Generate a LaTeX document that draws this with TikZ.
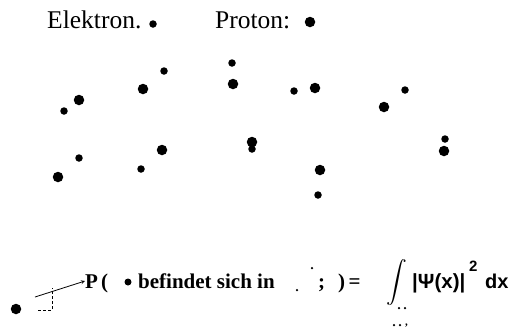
\documentclass[tikz,border=0pt]{standalone}
\usepackage{amsmath}
\usepackage{fontspec}
\setmainfont{Liberation Serif}
\newfontfamily\sansb{Liberation Sans}
\begin{document}
\begin{tikzpicture}[x=1pt,y=-1pt,
  lbl/.style={anchor=base west,inner sep=0pt,font=\fontsize{25.5}{28}\selectfont},
  btxt/.style={anchor=base west,inner sep=0pt,font=\bfseries\fontsize{21}{24}\selectfont},
  bdot/.style={circle,fill=black,inner sep=0pt,minimum size=10.5pt},
  sdot/.style={circle,fill=black,inner sep=0pt,minimum size=7.5pt},
  tdot/.style={circle,fill=black,inner sep=0pt,minimum size=2.5pt}]
\useasboundingbox (0,0) rectangle (513,330);
% legend
\node[lbl] (el) at (47,28) {Elektron.};
\node[sdot] (eld) at (153,24) {};
\node[lbl] (pr) at (215,28) {Proton:};
\node[bdot] (prd) at (310,22) {};
% cloud of particles
\node[sdot] (s1) at (64,111) {};
\node[bdot] (b1) at (79,100) {};
\node[bdot] (b2) at (143,89) {};
\node[sdot] (s2) at (164,71) {};
\node[sdot] (s3) at (232,63) {};
\node[bdot] (b3) at (233,84) {};
\node[sdot] (s4) at (294,91) {};
\node[bdot] (b4) at (315,88) {};
\node[sdot] (s5) at (405,90) {};
\node[bdot] (b5) at (384,107) {};
\node[sdot] (s6) at (79,158) {};
\node[bdot] (b6) at (58,177) {};
\node[sdot] (s7) at (141,169) {};
\node[bdot] (b7) at (162,150) {};
\node[sdot] (s8) at (252,149) {};
\node[bdot] (b8) at (252,142) {};
\node[bdot] (b9) at (320,170) {};
\node[sdot] (s9) at (318,195) {};
\node[sdot] (s10) at (445,139) {};
\node[bdot] (b10) at (444,151) {};
% bottom: particle, volume element and probability
\node[bdot] (p0) at (16,309) {};
\draw[densely dashed,line width=0.7pt] (38,310) -- (52,310) -- (52,288);
\coordinate (tail) at (35,297);
\node[btxt] (P) at (85,288) {P};
\node[btxt] (lp) at (101,288) {(};
\node[sdot,minimum size=7pt] (pd) at (128,282) {};
\draw[-stealth,line width=0.8pt] (tail) -- (P.west |- 0,281);
\node[btxt] (bf) at (138,288) {befindet sich in};
\node[tdot] (t1) at (297,290) {};
\node[tdot] (t2) at (312,268) {};
\node[btxt] (sc) at (318,288) {;};
\node[btxt] (rp) at (338,288) {)\,=};
\node[anchor=west,inner sep=0pt,font=\fontsize{20}{24}\selectfont] (int) at (386,283) {$\displaystyle\int$};
\node[anchor=base west,inner sep=0pt,font=\sansb\bfseries\fontsize{20.5}{24}\selectfont] (psi) at (412,288) {|Ψ(x)|};
\node[anchor=base west,inner sep=0pt,font=\sansb\bfseries\fontsize{15}{18}\selectfont] (two) at (469,271) {2};
\node[anchor=base west,inner sep=0pt,font=\sansb\bfseries\fontsize{20}{22}\selectfont] (dx) at (485,288) {dx};
\node[tdot] (u1) at (399,308) {};
\node[tdot] (u2) at (405,308) {};
\node[tdot] (u3) at (394,325) {};
\node[tdot] (u4) at (400,325) {};
\node[anchor=base west,inner sep=0pt,font=\bfseries\fontsize{11}{13}\selectfont] (cm) at (405,325) {,};
\end{tikzpicture}
\end{document}
